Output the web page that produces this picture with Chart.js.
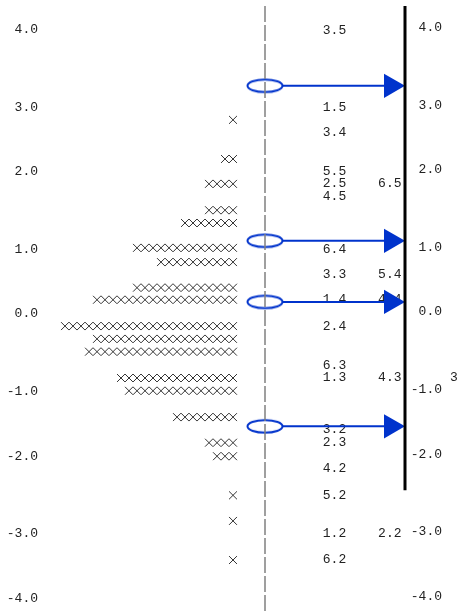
<!DOCTYPE html>
<html>
<head>
<meta charset="utf-8">
<style>
html, body { margin: 0; padding: 0; background: #fff; }
#wrap { width: 458px; height: 613px; }
</style>
<script src="https://cdn.jsdelivr.net/npm/chart.js@4.4.1/dist/chart.umd.min.js"></script>
</head>
<body>
<div id="wrap"><canvas id="chart"></canvas></div>
<script>
// tick labels, same on both sides
var yTicks = [4, 3, 2, 1, 0, -1, -2, -3, -4];

// rows of x marks: level of the row and how many marks it has
var markLevels = [2.73, 2.18, 1.83, 1.46, 1.28, 0.93, 0.73, 0.37, 0.20, -0.17,
                  -0.35, -0.53, -0.90, -1.08, -1.45, -1.81, -2.00, -2.55, -2.91, -3.46];
var markCounts = [1, 2, 4, 4, 7, 13, 10, 13, 18, 22,
                  18, 19, 15, 14, 8, 4, 3, 1, 1, 1];

// number labels, three columns
var col1Text = ['3.5', '1.5', '3.4', '5.5', '2.5', '4.5', '6.4', '3.3', '1.4',
                '2.4', '6.3', '1.3', '3.2', '2.3', '4.2', '5.2', '1.2', '6.2'];
var col1Y = [3.99, 2.91, 2.55, 2.00, 1.83, 1.65, 0.91, 0.55, 0.20,
             -0.18, -0.72, -0.90, -1.63, -1.81, -2.18, -2.55, -3.09, -3.46];
var col2Text = ['6.5', '5.4', '4.4', '4.3', '2.2'];
var col2Y = [1.83, 0.55, 0.20, -0.90, -3.09];
var col3Text = ['3.3'];
var col3Y = [-0.90];

// arrow levels
var arrowY = [3.21, 1.03, 0.17, -1.58];

// layout (x in "character" units, 8px each)
var dashX = 3.5, railX = 21, railTop = 4.33, railBottom = -2.48;
var ringHalf = 2.25, headX = 19.25;
var colX = [12.19, 19.1, 28.1];
var blue = '#0033cc';
var mono = '"Liberation Mono", "DejaVu Sans Mono", monospace';

var marks = [];
markLevels.forEach(function (lv, i) {
  for (var k = 0; k < markCounts[i]; k++) marks.push({ x: -(k + 0.5), y: lv });
});

// ellipse used as point style
var ring = document.createElement('canvas');
ring.width = 40; ring.height = 17;
var rc = ring.getContext('2d');
rc.strokeStyle = blue;
rc.lineWidth = 2;
rc.beginPath();
rc.ellipse(20, 8.5, 17.5, 6.3, 0, 0, Math.PI * 2);
rc.stroke();

var datasets = [
  {
    type: 'scatter', data: marks, pointStyle: 'crossRot', pointRadius: 5.6,
    borderColor: '#333', borderWidth: 1, clip: false
  },
  {
    type: 'line', data: [{ x: dashX, y: railTop }, { x: dashX, y: -4.3 }],
    borderColor: '#808080', borderWidth: 1.5, borderDash: [16, 3], pointRadius: 0, clip: false
  },
  {
    type: 'line', data: [{ x: railX, y: railTop }, { x: railX, y: railBottom }],
    borderColor: '#000', borderWidth: 3, pointRadius: 0, clip: false
  }
];
arrowY.forEach(function (v) {
  datasets.push({
    type: 'line', data: [{ x: dashX + ringHalf, y: v }, { x: headX, y: v }],
    borderColor: blue, borderWidth: 2, pointRadius: 0, clip: false
  });
});
datasets.push({
  type: 'scatter', data: arrowY.map(function (v) { return { x: headX, y: v }; }),
  pointStyle: 'triangle', rotation: 90, pointRadius: 14,
  backgroundColor: blue, borderColor: blue, borderWidth: 0, clip: false
});
datasets.push({
  type: 'scatter', data: arrowY.map(function (v) { return { x: dashX, y: v }; }),
  pointStyle: ring, clip: false
});

var textPlugin = {
  id: 'numberColumns',
  beforeDatasetsDraw: function (chart) {
    var ctx = chart.ctx, xs = chart.scales.x, ys = chart.scales.y;
    ctx.save();
    ctx.font = '13px ' + mono;
    ctx.fillStyle = '#222';
    ctx.textAlign = 'center';
    ctx.textBaseline = 'middle';
    [[col1Text, col1Y, colX[0]], [col2Text, col2Y, colX[1]], [col3Text, col3Y, colX[2]]].forEach(function (c) {
      c[0].forEach(function (t, i) {
        ctx.fillText(t, xs.getPixelForValue(c[2]), ys.getPixelForValue(c[1][i]));
      });
    });
    ctx.restore();
  }
};

function tickLabel(v) {
  var s = v.toFixed(1);
  return (v % 2) ? ['', s] : s;
}
function setTicks(s) {
  s.ticks = yTicks.map(function (v) { return { value: v }; });
}

new Chart(document.getElementById('chart'), {
  data: { datasets: datasets },
  plugins: [textPlugin],
  options: {
    responsive: true,
    maintainAspectRatio: false,
    animation: false,
    events: [],
    layout: { autoPadding: false, padding: { left: 0, right: 16, top: 0, bottom: 0 } },
    plugins: { legend: { display: false }, tooltip: { enabled: false } },
    scales: {
      x: { type: 'linear', min: -24, max: 21, display: false },
      y: {
        type: 'linear', position: 'left', min: -4.205, max: 4.416,
        grid: { display: false, drawTicks: false }, border: { display: false },
        afterBuildTicks: setTicks,
        afterFit: function (s) { s.width = 45; s.paddingTop = 0; s.paddingBottom = 0; },
        ticks: { callback: tickLabel, padding: 7, color: '#222', font: { family: mono, size: 13, lineHeight: 1 } }
      },
      y1: {
        type: 'linear', position: 'right', min: -4.233, max: 4.388,
        grid: { display: false, drawTicks: false }, border: { display: false },
        afterBuildTicks: setTicks,
        afterFit: function (s) { s.width = 37; s.paddingTop = 0; s.paddingBottom = 0; },
        ticks: { callback: tickLabel, crossAlign: 'far', padding: 0, color: '#222', font: { family: mono, size: 13, lineHeight: 1 } }
      }
    }
  }
});
</script>
</body>
</html>
